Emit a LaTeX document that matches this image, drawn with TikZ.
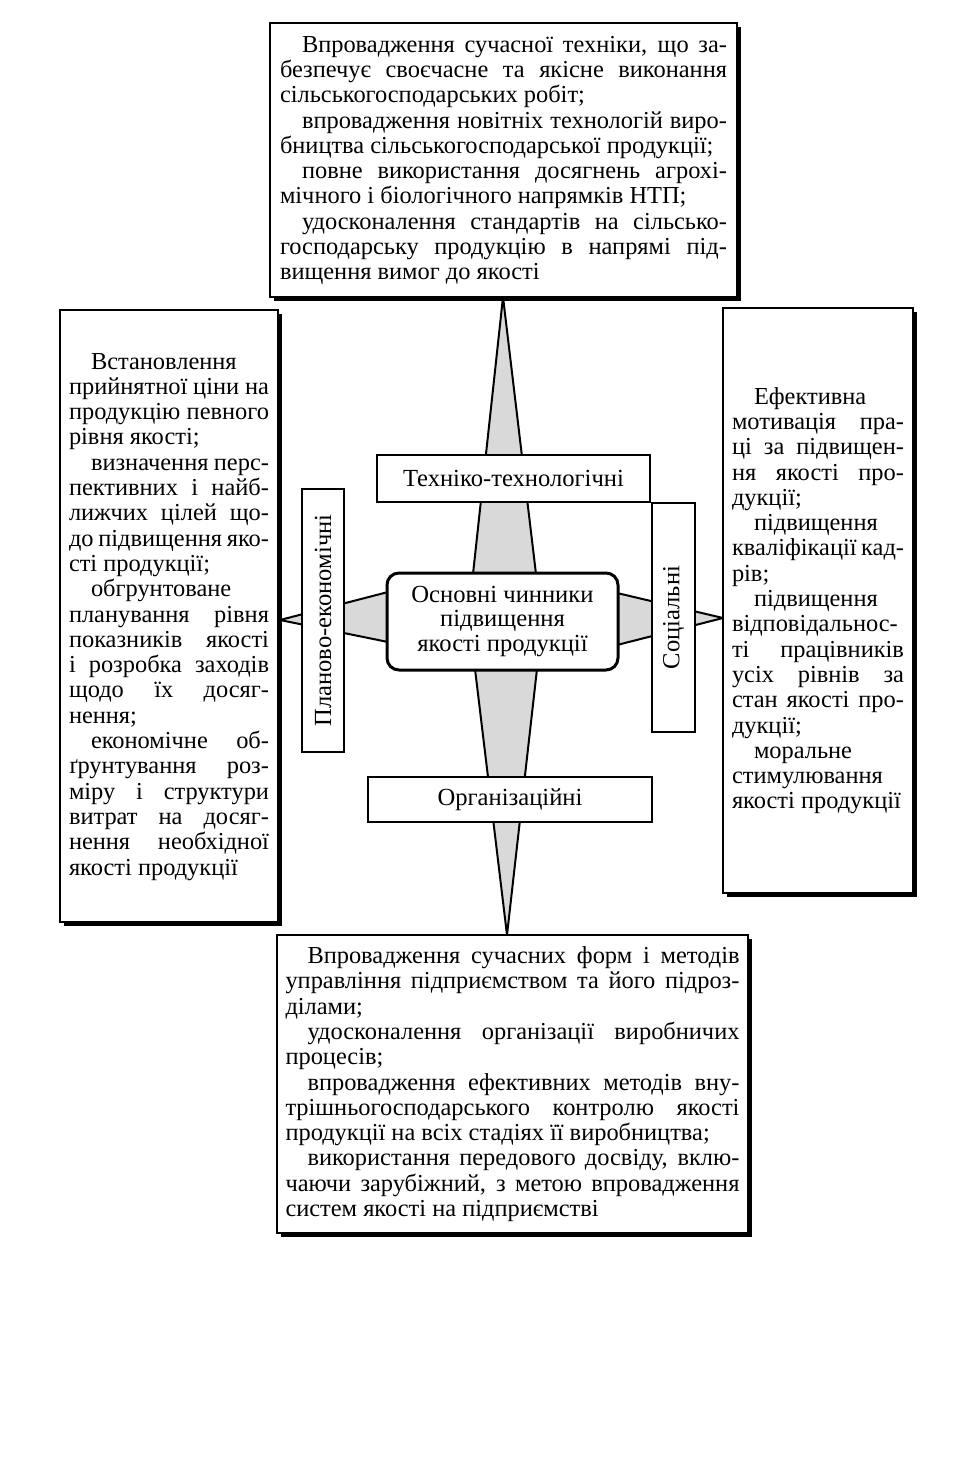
\documentclass[tikz,border=0pt]{standalone}
\usepackage{fontspec}
\setmainfont{Liberation Serif}
\usetikzlibrary{shadows}
\newcommand\stt{\vrule height 9pt depth 3pt width 0pt}
\newcommand\lnJ[1]{\hbox to\hsize{\stt#1}}
\newcommand\lnJI[1]{\hbox to\hsize{\stt\hskip11pt #1}}
\newcommand\lnL[1]{\hbox to\hsize{\stt#1\hfil}}
\newcommand\lnLI[1]{\hbox to\hsize{\stt\hskip11pt #1\hfil}}
\newcommand\bodyfont{\fontsize{12.2}{12.65}\selectfont\lineskiplimit=-\maxdimen}
\begin{document}
\begin{tikzpicture}[x=0.5pt,y=-0.5pt,
  outer/.style={draw, line width=0.9pt, fill=white, rectangle, inner ysep=0pt,
    drop shadow={shadow xshift=2pt, shadow yshift=-2pt, fill=black, opacity=1}},
  lbl/.style={draw, line width=0.9pt, fill=white, inner sep=0pt, font=\fontsize{12.3}{12.2}\selectfont},
  spike/.style={draw, line width=1pt, fill=black!15, line join=miter}]
\fill[white] (0,0) rectangle (970,1477);
\useasboundingbox (0,0) rectangle (970,1477);
% spikes
\coordinate (vt) at (503,297);
\coordinate (vb) at (507,935);
\coordinate (hl) at (280,620);
\coordinate (hr) at (723,618);
\draw[spike] (vt) -- (473,574) -- (475,669) -- (vb) -- (537,669) -- (536,574) -- cycle;
\draw[spike] (hl) -- (388,592) -- (617,593) -- (hr) -- (617,645) -- (388,642) -- cycle;
% labels
\node[lbl, minimum width=136.5pt, minimum height=23.5pt] (tech) at (513.5,478.5) {Техніко-технологічні};
\node[lbl, minimum width=142pt, minimum height=22.5pt] (org) at (510,799.5) {Організаційні};
\node[lbl, rotate=90, minimum width=131.5pt, minimum height=21pt] (plan) at (323,620.5) {Планово-економічні};
\node[lbl, rotate=90, minimum width=114.5pt, minimum height=21.5pt] (soc) at (673.5,617.5) {Соціальні};
\node[lbl, line width=1.5pt, rounded corners=6pt, align=center, minimum width=115.5pt, minimum height=48.5pt] (core) at (502.5,621.5) {Основні чинники\\підвищення\\якості продукції};
% outer boxes
\node[outer, inner xsep=5pt, minimum height=137pt] (topbox) at (503.5,160) {\vbox{\hsize=223.5pt\bodyfont
\lnJI{Впровадження сучасної техніки, що за-}
\lnJ{безпечує своєчасне та якісне виконання}
\lnL{сільськогосподарських робіт;}
\lnJI{впровадження новітніх технологій виро-}
\lnL{бництва сільськогосподарської продукції;}
\lnJI{повне використання досягнень агрохі-}
\lnL{мічного і біологічного напрямків НТП;}
\lnJI{удосконалення стандартів на сільсько-}
\lnJ{господарську продукцію в напрямі під-}
\lnL{вищення вимог до якості}}};
\node[outer, inner xsep=4.5pt, minimum height=306pt] (leftbox) at (169,616) {\vbox{\hsize=100pt\bodyfont
\lnLI{Встановлення}
\lnJ{прийнятної ціни на}
\lnJ{продукцію певного}
\lnL{рівня якості;}
\lnJI{визначення перс-}
\lnJ{пективних і найб-}
\lnJ{лижчих цілей що-}
\lnJ{до підвищення яко-}
\lnL{сті продукції;}
\lnLI{обгрунтоване}
\lnJ{планування рівня}
\lnJ{показників якості}
\lnJ{і розробка заходів}
\lnJ{щодо їх досяг-}
\lnL{нення;}
\lnJI{економічне об-}
\lnJ{ґрунтування роз-}
\lnJ{міру і структури}
\lnJ{витрат на досяг-}
\lnJ{нення необхідної}
\lnL{якості продукції}}};
\node[outer, inner xsep=4.5pt, minimum height=292.5pt] (rightbox) at (818,600.5) {\vbox{\hsize=86pt\bodyfont
\lnLI{Ефективна}
\lnJ{мотивація пра-}
\lnJ{ці за підвищен-}
\lnJ{ня якості про-}
\lnL{дукції;}
\lnLI{підвищення}
\lnJ{кваліфікації кад-}
\lnL{рів;}
\lnLI{підвищення}
\lnJ{відповідальнос-}
\lnJ{ті працівників}
\lnJ{усіх рівнів за}
\lnJ{стан якості про-}
\lnL{дукції;}
\lnLI{моральне}
\lnL{стимулювання}
\lnL{якості продукції}}};
\node[outer, inner xsep=4.25pt, minimum height=149pt] (botbox) at (512.5,1084) {\vbox{\hsize=227pt\bodyfont
\lnJI{Впровадження сучасних форм і методів}
\lnJ{управління підприємством та його підроз-}
\lnL{ділами;}
\lnJI{удосконалення організації виробничих}
\lnL{процесів;}
\lnJI{впровадження ефективних методів вну-}
\lnJ{трішньогосподарського контролю якості}
\lnL{продукції на всіх стадіях її виробництва;}
\lnJI{використання передового досвіду, вклю-}
\lnJ{чаючи зарубіжний, з метою впровадження}
\lnL{систем якості на підприємстві}}};
\end{tikzpicture}
\end{document}
